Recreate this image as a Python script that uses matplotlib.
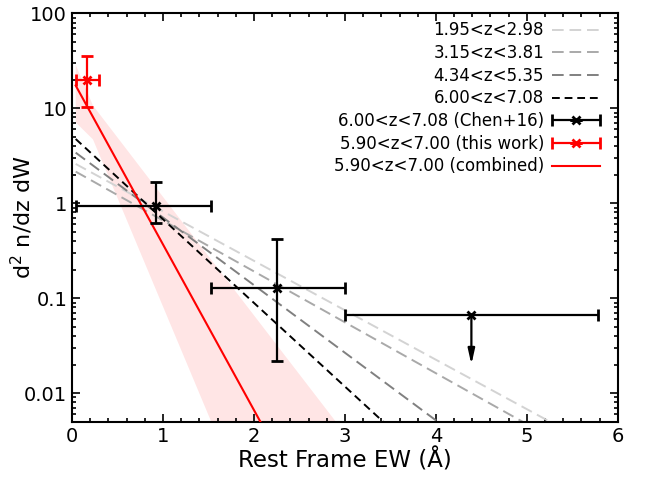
import numpy as np
import matplotlib
matplotlib.use("Agg")
import matplotlib.pyplot as plt
from matplotlib.ticker import MultipleLocator, LogLocator, NullFormatter
from matplotlib.legend_handler import HandlerErrorbar
from matplotlib.container import ErrorbarContainer

# exponential fits dN/dW = N* exp(-W/W0)
fit_labels = ["1.95<z<2.98", "3.15<z<3.81", "4.34<z<5.35", "6.00<z<7.08"]
fit_norm = [2.72, 2.26, 3.64, 5.15]
fit_w0 = [0.834, 0.81, 0.61, 0.493]

comb_label = "5.90<z<7.00 (combined)"
comb_norm = 20.4
comb_w0 = 0.249

# shaded range of the combined fit
band_w = [0.04, 0.23, 1.53, 2.9]
band_lo = [7.1, 4.7, 0.005, 4e-6]
band_hi = [28.8, 10.7, 0.254, 0.005]

# Chen+16 binned points
chen_label = "6.00<z<7.08 (Chen+16)"
chen_w = [0.92, 2.25]
chen_w_lo = [0.04, 1.53]
chen_w_hi = [1.53, 3.0]
chen_val = [0.94, 0.127]
chen_val_lo = [0.625, 0.022]
chen_val_hi = [1.69, 0.42]

# Chen+16 upper limit
lim_w = [4.39]
lim_w_lo = [3.0]
lim_w_hi = [5.78]
lim_val = [0.0667]

# this work
ours_label = "5.90<z<7.00 (this work)"
ours_w = [0.16]
ours_w_lo = [0.04]
ours_w_hi = [0.30]
ours_val = [19.9]
ours_val_lo = [10.3]
ours_val_hi = [35.6]

plt.rcParams["mathtext.default"] = "regular"

fig = plt.figure(figsize=(6.49, 4.79), dpi=100)
ax = fig.add_axes([0.111, 0.1196, 0.841, 0.8526])

w = np.linspace(0.04, 6.0, 300)

ax.fill_between(band_w, band_lo, band_hi, color="red", alpha=0.1, lw=0, zorder=1)

fit_colors = ["#d3d3d3", "#a9a9a9", "#808080", "black"]
fit_dashes = [(6, 3), (6, 3), (6, 3), (4, 2.5)]
handles = []
for lab, n0, w0, c, d in zip(fit_labels, fit_norm, fit_w0, fit_colors, fit_dashes):
    h, = ax.plot(w, n0 * np.exp(-w / w0), color=c, lw=1.4, dashes=d, label=lab, zorder=2)
    handles.append(h)

# Chen+16 points
cw = np.array(chen_w)
cv = np.array(chen_val)
h_chen = ax.errorbar(cw, cv,
                     xerr=[cw - np.array(chen_w_lo), np.array(chen_w_hi) - cw],
                     yerr=[cv - np.array(chen_val_lo), np.array(chen_val_hi) - cv],
                     fmt="x", color="black", ms=6, mew=2, elinewidth=1.6,
                     capsize=4, capthick=1.6, label=chen_label, zorder=4)

lw_ = np.array(lim_w)
ax.errorbar(lw_, lim_val,
            xerr=[lw_ - np.array(lim_w_lo), np.array(lim_w_hi) - lw_],
            fmt="x", color="black", ms=6, mew=2, elinewidth=1.6,
            capsize=4, capthick=1.6, zorder=4)
for x, v in zip(lim_w, lim_val):
    ax.annotate("", xy=(x, v * 0.3), xytext=(x, v),
                arrowprops=dict(arrowstyle="-|>,head_length=0.9,head_width=0.2",
                                color="black", lw=1.6, shrinkA=0, shrinkB=0,
                                mutation_scale=10),
                zorder=4)

# this work
ow = np.array(ours_w)
ov = np.array(ours_val)
h_ours = ax.errorbar(ow, ov,
                     xerr=[ow - np.array(ours_w_lo), np.array(ours_w_hi) - ow],
                     yerr=[ov - np.array(ours_val_lo), np.array(ours_val_hi) - ov],
                     fmt="x", color="red", ms=6, mew=2, elinewidth=1.6,
                     capsize=4, capthick=1.6, label=ours_label, zorder=5)

h_comb, = ax.plot(w, comb_norm * np.exp(-w / comb_w0), color="red", lw=1.5,
                  label=comb_label, zorder=3)

handles += [h_chen, h_ours, h_comb]

ax.set_yscale("log")
ax.set_xlim(0, 6)
ax.set_ylim(0.005, 100)
ax.set_yticks([0.01, 0.1, 1, 10, 100])
ax.set_yticklabels(["0.01", "0.1", "1", "10", "100"])
ax.yaxis.set_minor_locator(LogLocator(base=10, subs=np.arange(2, 10)))
ax.yaxis.set_minor_formatter(NullFormatter())
ax.xaxis.set_major_locator(MultipleLocator(1))
ax.xaxis.set_minor_locator(MultipleLocator(0.2))

ax.tick_params(which="both", direction="in", top=True, right=True, width=1.2)
ax.tick_params(which="major", length=6, labelsize=14)
ax.tick_params(which="minor", length=3)
for s in ax.spines.values():
    s.set_linewidth(1.5)

ax.set_xlabel("Rest Frame EW (Å)", fontsize=16.5, labelpad=2)
ax.set_ylabel("d$^2$ n/dz dW", fontsize=16, labelpad=-8)

ax.legend(handles=handles, labels=[h.get_label() for h in handles],
          loc="upper right", bbox_to_anchor=(0.967, 0.98),
          frameon=False, markerfirst=False, fontsize=12,
          handlelength=2.9, labelspacing=0.28, handletextpad=0.45,
          borderaxespad=0, borderpad=0,
          handler_map={ErrorbarContainer: HandlerErrorbar(xerr_size=1.45, yerr_size=0)})

fig.savefig("out.png", dpi=100)
